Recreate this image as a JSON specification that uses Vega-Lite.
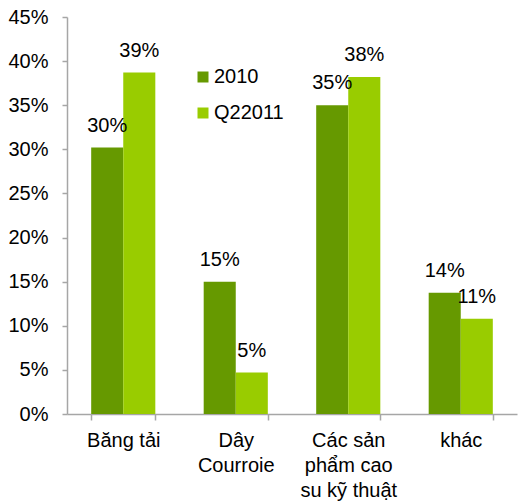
{
  "$schema": "https://vega.github.io/schema/vega-lite/v6.json",
  "width": 450,
  "height": 397,
  "autosize": "none",
  "padding": {"left": 67, "top": 17, "right": 2, "bottom": 88},
  "background": "white",
  "config": {
    "view": {"stroke": null},
    "font": "Liberation Sans",
    "axis": {"grid": false, "domainColor": "#a6a6a6", "tickColor": "#a6a6a6", "domainWidth": 1.5, "tickWidth": 1.5, "labelColor": "#000000", "labelFontSize": 20, "labelFont": "Liberation Sans", "title": null}
  },
  "data": {
    "values": [
      {"cat": "Băng tải", "series": "2010", "value": 0.302},
      {"cat": "Băng tải", "series": "Q22011", "value": 0.387},
      {"cat": "Dây|Courroie", "series": "2010", "value": 0.15},
      {"cat": "Dây|Courroie", "series": "Q22011", "value": 0.047},
      {"cat": "Các sản|phẩm cao|su kỹ thuật", "series": "2010", "value": 0.35},
      {"cat": "Các sản|phẩm cao|su kỹ thuật", "series": "Q22011", "value": 0.382},
      {"cat": "khác", "series": "2010", "value": 0.1375},
      {"cat": "khác", "series": "Q22011", "value": 0.108}
    ]
  },
  "encoding": {
    "x": {
      "field": "cat", "type": "nominal", "sort": null,
      "scale": {"paddingInner": 0.43, "paddingOuter": 0.215},
      "axis": {"labelAngle": 0, "tickBand": "extent", "tickSize": 6, "labelPadding": 10, "labelBaseline": "top", "labelLineHeight": 25, "labelExpr": "split(datum.label, '|')"}
    },
    "xOffset": {"field": "series", "type": "nominal", "scale": {"paddingInner": 0}},
    "y": {
      "field": "value", "type": "quantitative",
      "scale": {"domain": [0, 0.45], "nice": false},
      "axis": {"values": [0, 0.05, 0.1, 0.15, 0.2, 0.25, 0.3, 0.35, 0.4, 0.45], "format": ".0%", "tickSize": 5, "labelPadding": 14}
    }
  },
  "layer": [
    {
      "mark": {"type": "bar"},
      "encoding": {
        "color": {
          "field": "series", "type": "nominal",
          "scale": {"domain": ["2010", "Q22011"], "range": ["#669900", "#99cc00"]},
          "legend": {"title": null, "orient": "none", "legendX": 126, "legendY": 50, "padding": 0, "symbolType": "square", "symbolSize": 121, "symbolStrokeWidth": 0, "labelFontSize": 20, "labelFont": "Liberation Sans", "labelColor": "#000000", "rowPadding": 16, "labelOffset": 1}
        }
      }
    },
    {
      "mark": {"type": "text", "baseline": "alphabetic", "dy": -16, "fontSize": 20, "font": "Liberation Sans", "color": "#000000"},
      "encoding": {
        "text": {"field": "value", "type": "quantitative", "format": ".0%"}
      }
    }
  ]
}
